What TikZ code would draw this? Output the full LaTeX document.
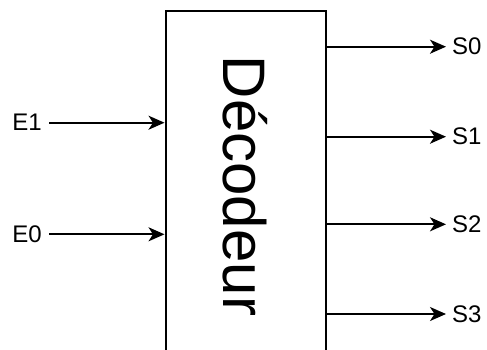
\documentclass[tikz,border=0pt]{standalone}
\usepackage{fontspec}
\setmainfont{Liberation Sans}
\usepackage{tikz}
\usetikzlibrary{arrows.meta, positioning, calc}

\tikzset{
  sig/.style={font=\fontsize{24}{24}\selectfont, inner sep=0pt},
  wire/.style={line width=1.8pt, -{Stealth[length=16pt, width=14pt, inset=4.5pt]}},
}

\begin{document}
\begin{tikzpicture}[x=1pt, y=-1pt]
\useasboundingbox (0,0) rectangle (487,349);
\clip (0,0) rectangle (487,349);
% Decoder block (runs off the bottom edge)
\node[draw, line width=2pt, minimum width=160.5pt, minimum height=369pt, inner sep=0pt] (dec) at (245.75,195.5) {};
\node[rotate=-90, inner sep=0pt, font=\fontsize{60}{60}\selectfont] (dectext) at (245.5,186) {Décodeur};
% Inputs
\node[sig, inner xsep=7.3pt] (e1) at (27,122.7) {E1};
\node[sig, inner xsep=7.3pt] (e0) at (27,234.3) {E0};
\draw[wire] (e1.east) -- (e1 -| dec.west);
\draw[wire] (e0.east) -- (e0 -| dec.west);
% Outputs
\node[sig, inner xsep=6pt, anchor=west] (s0) at (446,46.7) {S0};
\node[sig, inner xsep=6pt, anchor=west] (s1) at (446,136.7) {S1};
\node[sig, inner xsep=6pt, anchor=west] (s2) at (446,224.3) {S2};
\node[sig, inner xsep=6pt, anchor=west] (s3) at (446,314) {S3};
\draw[wire] (s0 -| dec.east) -- (s0.west);
\draw[wire] (s1 -| dec.east) -- (s1.west);
\draw[wire] (s2 -| dec.east) -- (s2.west);
\draw[wire] (s3 -| dec.east) -- (s3.west);
\end{tikzpicture}
\end{document}
